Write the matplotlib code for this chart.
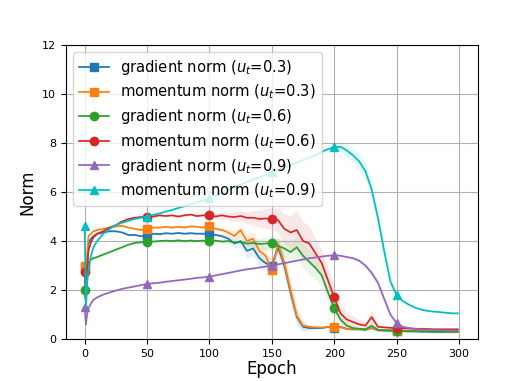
import matplotlib
matplotlib.use("Agg")
import matplotlib.pyplot as plt
import numpy as np

epochs = [0, 1, 2, 3, 5, 7, 10, 15, 20, 25, 30, 35, 40, 45, 50, 55, 60, 65, 70, 75,
          80, 85, 90, 95, 100, 105, 110, 115, 120, 125, 130, 135, 140, 145, 150, 155,
          160, 165, 170, 175, 180, 185, 190, 195, 200, 205, 210, 215, 220, 225, 230,
          235, 240, 245, 250, 255, 260, 265, 270, 275, 280, 285, 290, 295, 299]

grad_03 = [2.9, 1.5, 3.2, 3.9, 4.1, 4.2, 4.3, 4.35, 4.4, 4.4, 4.35, 4.25, 4.25, 4.2, 4.2,
           4.3, 4.28, 4.32, 4.3, 4.33, 4.3, 4.32, 4.3, 4.3, 4.3, 4.25, 4.2, 4.1, 3.9, 4.0,
           3.6, 3.7, 3.3, 3.1, 3.0, 3.75, 3.0, 1.9, 0.9, 0.5, 0.45, 0.45, 0.45, 0.5, 0.45,
           0.5, 0.42, 0.4, 0.4, 0.38, 0.45, 0.36, 0.35, 0.35, 0.33, 0.33, 0.32, 0.32, 0.31,
           0.31, 0.3, 0.3, 0.3, 0.3, 0.3]
mom_03 = [3.0, 1.5, 3.5, 4.2, 4.3, 4.4, 4.45, 4.5, 4.55, 4.6, 4.62, 4.55, 4.5, 4.45, 4.5,
          4.55, 4.55, 4.58, 4.55, 4.58, 4.55, 4.6, 4.58, 4.55, 4.6, 4.5, 4.45, 4.35, 4.2,
          4.45, 4.0, 4.1, 3.6, 3.4, 2.8, 3.9, 3.1, 2.0, 0.95, 0.55, 0.5, 0.48, 0.47, 0.5,
          0.5, 0.48, 0.42, 0.41, 0.41, 0.39, 0.46, 0.37, 0.36, 0.36, 0.34, 0.34, 0.33,
          0.33, 0.32, 0.32, 0.31, 0.31, 0.31, 0.31, 0.31]
grad_06 = [2.0, 1.5, 2.6, 3.1, 3.25, 3.3, 3.35, 3.45, 3.55, 3.65, 3.75, 3.85, 3.92, 3.95,
           3.98, 3.98, 4.0, 4.02, 4.0, 4.03, 4.0, 4.02, 4.0, 4.02, 4.0, 4.02, 3.98, 4.0,
           3.95, 3.95, 3.9, 3.92, 3.88, 3.9, 3.9, 3.8, 3.7, 3.55, 3.75, 3.4, 3.15, 2.9,
           2.6, 1.9, 1.25, 0.8, 0.55, 0.45, 0.42, 0.4, 0.55, 0.38, 0.36, 0.35, 0.33, 0.33,
           0.32, 0.32, 0.31, 0.31, 0.3, 0.3, 0.3, 0.3, 0.3]
mom_06 = [2.75, 1.5, 2.8, 3.6, 3.95, 4.15, 4.3, 4.4, 4.55, 4.65, 4.8, 4.9, 4.95, 4.98, 5.0,
          5.0, 5.05, 5.02, 5.05, 5.0, 5.05, 5.08, 5.02, 5.05, 5.05, 5.0, 5.05, 5.0, 4.98,
          5.02, 4.95, 4.95, 4.9, 4.92, 4.9, 4.85, 4.5, 4.35, 4.45, 4.0, 3.9, 3.5, 3.1, 2.4,
          1.7, 1.05, 0.8, 0.7, 0.6, 0.55, 0.9, 0.5, 0.48, 0.46, 0.45, 0.44, 0.43, 0.42,
          0.42, 0.41, 0.4, 0.4, 0.4, 0.4, 0.4]
grad_09 = [1.3, 0.6, 1.05, 1.25, 1.45, 1.6, 1.7, 1.82, 1.9, 1.98, 2.05, 2.1, 2.15, 2.2, 2.25,
           2.28, 2.3, 2.34, 2.37, 2.4, 2.43, 2.46, 2.5, 2.52, 2.55, 2.6, 2.65, 2.7, 2.75,
           2.8, 2.85, 2.88, 2.92, 2.96, 3.0, 3.05, 3.1, 3.15, 3.2, 3.25, 3.3, 3.33, 3.37,
           3.4, 3.42, 3.4, 3.35, 3.3, 3.2, 3.0, 2.7, 2.3, 1.65, 1.0, 0.65, 0.5, 0.45, 0.42,
           0.4, 0.38, 0.37, 0.36, 0.35, 0.35, 0.35]
mom_09 = [4.6, 1.3, 2.3, 2.8, 3.4, 3.75, 4.0, 4.3, 4.5, 4.65, 4.75, 4.82, 4.9, 4.95, 5.0,
          5.07, 5.13, 5.2, 5.27, 5.35, 5.42, 5.5, 5.58, 5.66, 5.75, 5.85, 5.95, 6.1, 6.2,
          6.3, 6.4, 6.5, 6.6, 6.7, 6.8, 6.9, 7.0, 7.1, 7.2, 7.3, 7.4, 7.5, 7.65, 7.75,
          7.82, 7.85, 7.7, 7.5, 7.25, 6.85, 6.1, 4.95, 3.6, 2.35, 1.8, 1.55, 1.4, 1.28,
          1.2, 1.15, 1.12, 1.1, 1.07, 1.05, 1.05]

# half-width of the shaded bands (std over runs)
band_03 = [0.05] * 26 + [0.1, 0.15, 0.2, 0.25, 0.3, 0.3, 0.35, 0.35, 0.35, 0.35, 0.4,
                         0.45, 0.35, 0.2, 0.1] + [0.05] * 24
band_06 = [0.05] * 30 + [0.1, 0.15, 0.2, 0.25, 0.3, 0.3, 0.35, 0.4, 0.45, 0.5, 0.5,
                         0.45, 0.45, 0.4, 0.3, 0.2, 0.15, 0.1] + [0.05] * 17
band_m06 = [0.05] * 24 + [0.1, 0.12, 0.15, 0.15, 0.2, 0.2, 0.25, 0.3, 0.35, 0.4, 0.45,
                          0.5, 0.6, 0.7, 0.8, 0.8, 0.7, 0.6, 0.55, 0.5, 0.45, 0.4, 0.3,
                          0.25, 0.2, 0.15, 0.3] + [0.05] * 14
band_09 = [0.03] * 46 + [0.05, 0.08, 0.1, 0.12, 0.15, 0.15, 0.15, 0.12, 0.08] + [0.03] * 10
band_m09 = [0.03] * 42 + [0.05, 0.1, 0.15, 0.2, 0.25, 0.3, 0.35, 0.35, 0.35, 0.3,
                          0.25, 0.2, 0.1] + [0.05] * 10

series = [
    ("gradient norm ($u_t$=0.3)", grad_03, band_03, "tab:blue", "s"),
    ("momentum norm ($u_t$=0.3)", mom_03, band_03, "tab:orange", "s"),
    ("gradient norm ($u_t$=0.6)", grad_06, band_06, "tab:green", "o"),
    ("momentum norm ($u_t$=0.6)", mom_06, band_m06, "tab:red", "o"),
    ("gradient norm ($u_t$=0.9)", grad_09, band_09, "tab:purple", "^"),
    ("momentum norm ($u_t$=0.9)", mom_09, band_m09, "c", "^"),
]

marks = [epochs.index(e) for e in (0, 50, 100, 150, 200, 250)]

fig = plt.figure(figsize=(5.32, 3.81), dpi=100)
ax = fig.add_axes([0.124, 0.110, 0.774, 0.772])

for label, y, b, color, m in series:
    y = np.array(y)
    b = np.array(b)
    ax.fill_between(epochs, y - b, y + b, color=color, alpha=0.1, lw=0)
    ax.plot(epochs, y, color=color, marker=m, markevery=marks, markersize=6,
            lw=1.25, label=label)

ax.set_xlim(-15, 315)
ax.set_ylim(0, 12)
ax.set_xticks([0, 50, 100, 150, 200, 250, 300])
ax.set_yticks([0, 2, 4, 6, 8, 10, 12])
ax.tick_params(labelsize=8)
ax.grid(True, color="#b0b0b0", lw=0.8)
ax.set_xlabel("Epoch", fontsize=12, labelpad=1)
ax.set_ylabel("Norm", fontsize=12)
ax.legend(loc="upper left", fontsize=10.6, handlelength=2.0, labelspacing=0.4,
          borderpad=0.4, handletextpad=0.8)

fig.savefig("out.png", dpi=100)
